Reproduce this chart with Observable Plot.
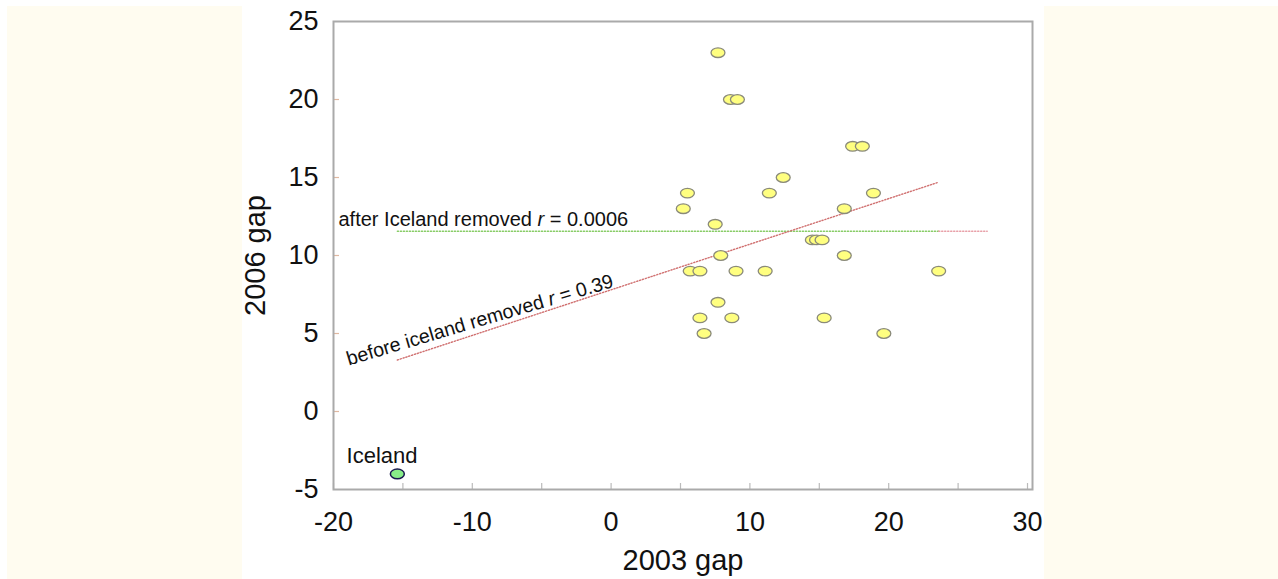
<!DOCTYPE html>
<html>
<head>
<meta charset="utf-8">
<script src="https://cdn.jsdelivr.net/npm/d3@7"></script>
<script src="https://cdn.jsdelivr.net/npm/@observablehq/plot@0.6"></script>
<style>
  html, body { margin: 0; padding: 0; background: #ffffff; }
  #wrap { position: relative; width: 1278px; height: 579px; overflow: hidden; font-family: "Liberation Sans", Arial, sans-serif; }
  .panel { position: absolute; background: #fffcf0; }
  #chart { position: absolute; left: 0; top: 0; }
</style>
</head>
<body>
<div id="wrap">
  <div class="panel" style="left:7px; top:6px; width:235px; height:573px;"></div>
  <div class="panel" style="left:1044px; top:6px; width:234px; height:573px;"></div>
  <div id="chart"></div>
</div>
<script>
// ---- data ----
const gap2003 = [7.7, 8.6, 9.1, 17.4, 18.1, 12.4, 5.5, 11.4, 18.9, 5.2, 16.8, 7.5, 14.5, 14.8, 15.2, 7.9, 16.8, 5.7, 6.4, 9.0, 11.1, 23.6, 7.7, 6.4, 8.7, 15.35, 6.7, 19.65];
const gap2006 = [23, 20, 20, 17, 17, 15, 14, 14, 14, 13, 13, 12, 11, 11, 11, 10, 10, 9, 9, 9, 9, 9, 7, 6, 6, 6, 5, 5];
const outlierName = ["Iceland"];
const outlier2003 = [-15.4];
const outlier2006 = [-4];
const outlierLabelX = [-19.06];
const outlierLabelY = [-3.29];

// fitted lines (endpoints)
const beforeLineX = [-15.4, 23.6];
const beforeLineY = [3.3, 14.7];
const afterLineX = [-15.4, 23.6];
const afterLineY = [11.55, 11.55];
const afterTailX = [23.6, 27.1];
const afterTailY = [11.55, 11.55];

const afterLabel = ["after Iceland removed r = 0.0006"];
const afterLabelX = [-19.64];
const afterLabelY = [11.86];
const beforeLabel = ["before iceland removed r = 0.39"];
const beforeLabelX = [-18.9];
const beforeLabelY = [2.95];

const xMajorTicks = [-20, -10, 0, 10, 20, 30];
const xMinorTicks = [-15, -5, 5, 15, 25];
const yTicks = [-5, 0, 5, 10, 15, 20, 25];
const yInnerTicks = [0, 5, 10, 15, 20];
const xTitle = "2003 gap";
const yTitle = "2006 gap";

// ---- build tables ----
const points = gap2003.map((x, i) => ({x, y: gap2006[i]}));
const outliers = outlierName.map((n, i) => ({name: n, x: outlier2003[i], y: outlier2006[i], lx: outlierLabelX[i], ly: outlierLabelY[i]}));
const toLine = (xs, ys) => xs.map((x, i) => ({x, y: ys[i]}));
const beforeLine = toLine(beforeLineX, beforeLineY);
const afterLine = toLine(afterLineX, afterLineY);
const afterTail = toLine(afterTailX, afterTailY);
const afterLab = afterLabel.map((t, i) => ({t, x: afterLabelX[i], y: afterLabelY[i]}));
const beforeLab = beforeLabel.map((t, i) => ({t, x: beforeLabelX[i], y: beforeLabelY[i]}));

// ellipse symbol
const ellipse = {
  draw(ctx, size) {
    const r = Math.sqrt(size / Math.PI);
    const rx = r * 1.45, ry = r, k = 0.5523;
    ctx.moveTo(rx, 0);
    ctx.bezierCurveTo(rx, ry * k, rx * k, ry, 0, ry);
    ctx.bezierCurveTo(-rx * k, ry, -rx, ry * k, -rx, 0);
    ctx.bezierCurveTo(-rx, -ry * k, -rx * k, -ry, 0, -ry);
    ctx.bezierCurveTo(rx * k, -ry, rx, -ry * k, rx, 0);
    ctx.closePath();
  }
};

const W = 1278, H = 579;
const mL = 333, mR = 246, mT = 21, mB = 90;
const plotW = W - mL - mR, plotH = H - mT - mB;
const fmt = d => String(d);

const chart = Plot.plot({
  width: W,
  height: H,
  marginLeft: mL,
  marginRight: mR,
  marginTop: mT,
  marginBottom: mB,
  style: {background: "transparent", fontFamily: "'Liberation Sans', Arial, sans-serif", color: "#111"},
  x: {domain: [-20, 30.36]},
  y: {domain: [-5, 25]},
  marks: [
    // inner ticks
    Plot.tickX(xMajorTicks.concat(xMinorTicks), {x: d => d, stroke: "#bbbbbb", strokeWidth: 1.2, insetTop: plotH - 6}),
    Plot.tickY(yInnerTicks, {y: d => d, stroke: "#e0b8a0", strokeWidth: 1.2, insetRight: plotW - 6}),
    Plot.frame({stroke: "#aaaaaa", strokeWidth: 2}),
    Plot.axisX(xMajorTicks, {tickSize: 0, tickPadding: 22, fontSize: 27, label: null, tickFormat: fmt}),
    Plot.axisY(yTicks, {tickSize: 0, tickPadding: 15, fontSize: 27, label: null, tickFormat: fmt}),
    Plot.text([xTitle], {text: d => d, frameAnchor: "bottom", textAnchor: "middle", lineAnchor: "middle", dy: 71, fontSize: 29, fill: "#111"}),
    Plot.text([yTitle], {text: d => d, frameAnchor: "left", textAnchor: "middle", lineAnchor: "middle", dx: -78, rotate: -90, fontSize: 29, fill: "#111"}),
    // fitted lines
    Plot.line(afterLine, {x: "x", y: "y", stroke: "#88cc66", strokeWidth: 1.4, strokeDasharray: "1.2,1.8"}),
    Plot.line(afterTail, {x: "x", y: "y", stroke: "#e8a0a8", strokeWidth: 1.4, strokeDasharray: "1.2,1.8"}),
    Plot.line(beforeLine, {x: "x", y: "y", stroke: "#d07070", strokeWidth: 1.4, strokeDasharray: "1.2,1.8"}),
    // labels
    Plot.text(afterLab, {x: "x", y: "y", text: "t", textAnchor: "start", lineAnchor: "bottom", fontSize: 20, fill: "#111"}),
    Plot.text(beforeLab, {x: "x", y: "y", text: "t", textAnchor: "start", lineAnchor: "bottom", fontSize: 19.6, rotate: -16.5, fill: "#111"}),
    Plot.text(outliers, {x: "lx", y: "ly", text: "name", textAnchor: "start", lineAnchor: "bottom", fontSize: 22, fill: "#111"}),
    // points
    Plot.dot(points, {x: "x", y: "y", r: 4.8, symbol: ellipse, fill: "#ffff80", stroke: "#8a8a7a", strokeWidth: 1.3}),
    Plot.dot(outliers, {x: "x", y: "y", r: 4.8, symbol: ellipse, fill: "#88ee88", stroke: "#1a1a50", strokeWidth: 1.5})
  ]
});

// italic "r" in the r-value labels
d3.select(chart).selectAll("text").each(function() {
  const t = this.textContent;
  const m = t.match(/^(.* )r( = .*)$/);
  if (m && !this.querySelector("tspan")) {
    this.textContent = "";
    const sel = d3.select(this);
    sel.append("tspan").text(m[1]);
    sel.append("tspan").attr("font-style", "italic").text("r");
    sel.append("tspan").text(m[2]);
  }
});

document.getElementById("chart").appendChild(chart);
</script>
</body>
</html>
